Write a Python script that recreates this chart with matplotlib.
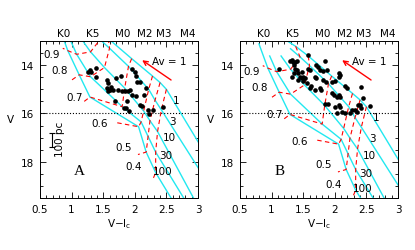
import matplotlib
matplotlib.use('Agg')
import matplotlib.pyplot as plt
import numpy as np
from matplotlib.ticker import MultipleLocator, FormatStrFormatter

plt.rcParams['font.family'] = 'DejaVu Sans'
plt.rcParams['mathtext.default'] = 'regular'

# model grid (panel A distance): rows = masses, columns = ages
masses = ['0.9', '0.8', '0.7', '0.6', '0.5', '0.4']
ages = ['1', '3', '10', '30', '100']
grid_vi = np.array([
    [1.38, 1.45, 1.30, 1.08, 0.94],
    [1.58, 1.60, 1.52, 1.30, 1.12],
    [1.95, 1.90, 1.84, 1.80, 1.29],
    [2.28, 2.22, 2.14, 2.10, 2.06],
    [2.40, 2.32, 2.24, 2.21, 2.18],
    [2.50, 2.42, 2.36, 2.33, 2.33],
])
grid_v = np.array([
    [12.50, 12.94, 13.45, 13.55, 13.40],
    [12.90, 13.30, 14.10, 14.48, 14.40],
    [13.73, 14.05, 14.95, 15.72, 15.32],
    [14.45, 15.00, 15.90, 16.35, 16.55],
    [14.72, 15.45, 16.30, 16.95, 17.60],
    [15.00, 15.85, 16.75, 17.60, 18.45],
])
# isochrone ends outside the mass grid
iso_top_vi = [1.20, 1.30, 1.15, 0.97, 0.80]
iso_top_v = [12.20, 12.60, 12.90, 12.90, 12.40]
iso_bot_vi = [3.10, 3.10, 2.97, 2.82, 2.62]
iso_bot_v = [17.60, 18.65, 19.70, 19.70, 19.70]
# last part of each track, toward the main sequence
tail_vi = [0.86, 1.00, 1.20, 1.69, 2.05, 2.29]
tail_v = [13.30, 14.62, 15.50, 16.37, 17.70, 18.70]

mass_lab_vi = [0.68, 0.81, 1.04, 1.44, 1.83, 1.98]
mass_lab_v = [13.52, 14.20, 15.30, 16.40, 17.37, 18.19]
age_lab_vi = [2.65, 2.59, 2.55, 2.49, 2.44]
age_lab_v = [15.43, 16.31, 16.99, 17.74, 18.38]

spt_names = ['K0', 'K5', 'M0', 'M2', 'M3', 'M4']
spt_vi = [0.88, 1.34, 1.81, 2.16, 2.46, 2.84]

stars_a_vi = [1.265, 1.29, 1.30, 1.39, 1.39, 1.555, 1.58, 1.555, 1.61, 1.58,
              1.66, 1.74, 1.71, 1.78, 1.69, 1.845, 1.90, 1.92, 1.95, 1.87,
              1.83, 1.86, 1.91, 1.95, 2.00, 2.03, 2.08, 2.02, 2.17, 2.02,
              2.08, 2.11, 2.21, 2.23, 2.29, 2.44, 2.14, 1.62, 1.80]
stars_a_v = [14.27, 14.18, 14.27, 14.10, 14.50, 14.61, 14.75, 14.95, 15.02, 15.09,
             15.02, 15.02, 14.54, 14.45, 15.47, 15.09, 15.09, 15.02, 15.22, 15.50,
             15.77, 15.77, 15.90, 14.14, 14.30, 14.68, 14.68, 14.45, 14.95, 15.29,
             15.63, 15.70, 15.84, 16.04, 15.84, 15.73, 15.25, 14.90, 15.05]

stars_b_vi = [1.12, 1.29, 1.32, 1.34, 1.37, 1.355, 1.40, 1.57, 1.37, 1.40,
              1.36, 1.42, 1.33, 1.48, 1.45, 1.48, 1.50, 1.53, 1.50, 1.42,
              1.58, 1.61, 1.71, 1.74, 1.77, 1.82, 1.555, 1.63, 1.61, 1.77,
              1.78, 1.69, 1.71, 1.82, 1.86, 2.06, 2.08, 2.07, 2.00, 1.95,
              1.99, 2.03, 2.06, 2.09, 2.16, 2.20, 2.41, 2.00, 2.06, 2.09,
              2.03, 2.11, 2.16, 2.37, 2.41, 2.45, 2.56, 2.27, 2.32, 2.35,
              2.24, 1.87, 1.95, 1.69, 1.84, 1.89, 1.84, 2.40]
stars_b_v = [14.16, 13.84, 13.80, 13.86, 13.89, 14.00, 13.84, 13.56, 14.14, 14.20,
             14.34, 14.34, 14.48, 14.27, 14.48, 14.54, 14.48, 14.54, 14.65, 14.61,
             14.14, 14.20, 14.00, 14.07, 14.20, 14.25, 14.75, 14.88, 14.93, 14.93,
             15.02, 14.48, 14.54, 14.61, 14.68, 14.34, 14.41, 14.48, 14.65, 15.16,
             15.22, 15.33, 15.22, 15.33, 14.88, 14.93, 14.89, 15.74, 15.66, 15.74,
             15.97, 15.95, 16.00, 15.63, 15.77, 15.36, 15.70, 15.84, 15.84, 15.95,
             15.97, 14.20, 14.68, 15.02, 13.82, 15.62, 15.60, 15.67]

panels = ['A', 'B']
dist_shift = [0.0, 0.72]
stars_vi = [stars_a_vi, stars_b_vi]
stars_v = [stars_a_v, stars_b_v]

fig = plt.figure(figsize=(4.15, 2.51), dpi=100)
lefts = [40 / 415, 240 / 415]

for k, name in enumerate(panels):
    ax = fig.add_axes([lefts[k], 52 / 251, 158 / 415, 157 / 251])
    dv = dist_shift[k]

    # isochrones
    for j in range(len(ages)):
        xs = [iso_top_vi[j]] + list(grid_vi[:, j]) + [iso_bot_vi[j]]
        ys = [iso_top_v[j]] + list(grid_v[:, j]) + [iso_bot_v[j]]
        ax.plot(xs, np.array(ys) + dv, color='#22e8f0', lw=1.0, zorder=2)
        ax.text(age_lab_vi[j], age_lab_v[j] + dv, ages[j], fontsize=7.5,
                ha='center', va='center')

    # mass tracks
    for i in range(len(masses)):
        xs = list(grid_vi[i]) + [tail_vi[i]]
        ys = list(grid_v[i]) + [tail_v[i]]
        ax.plot(xs, np.array(ys) + dv, color='red', lw=0.8,
                dashes=(4, 3), zorder=2)
        ax.text(mass_lab_vi[i], mass_lab_v[i] + dv, masses[i], fontsize=7.5,
                ha='center', va='center')

    ax.scatter(stars_vi[k], stars_v[k], s=11, color='black', zorder=3,
               linewidths=0)
    ax.axhline(16, color='black', ls=':', lw=0.8)

    # reddening vector
    ax.annotate('', xy=(2.08, 13.73), xytext=(2.61, 14.68),
                arrowprops=dict(arrowstyle='->', color='red', lw=1.0,
                                mutation_scale=8))
    ax.text(2.55, 13.82, 'Av = 1', fontsize=7.5, ha='center', va='center')

    ax.text(1.12, 18.38, name, fontsize=11, family='Liberation Serif',
            ha='center', va='center')

    if name == 'A':
        ax.errorbar([0.685], [17.1], yerr=[0.3], color='black', lw=0.8,
                    capsize=2, capthick=0.8)
        ax.text(0.82, 17.05, '100 pc', rotation=90, fontsize=7.5,
                ha='center', va='center')

    for s, xv in zip(spt_names, spt_vi):
        ax.text(xv, 1.05, s, transform=ax.get_xaxis_transform(), fontsize=7.5,
                ha='center', va='center')

    ax.set_xlim(0.5, 3.0)
    ax.set_ylim(19.5, 13.0)
    ax.xaxis.set_major_locator(MultipleLocator(0.5))
    ax.xaxis.set_minor_locator(MultipleLocator(0.1))
    ax.xaxis.set_major_formatter(FormatStrFormatter('%g'))
    ax.yaxis.set_major_locator(MultipleLocator(2))
    ax.yaxis.set_minor_locator(MultipleLocator(0.5))
    ax.tick_params(which='both', direction='in', top=True, right=True,
                   labelsize=7.5, width=0.6)
    ax.tick_params(which='major', length=4, pad=4)
    ax.tick_params(which='minor', length=2)
    for sp in ax.spines.values():
        sp.set_linewidth(0.7)
    ax.set_xlabel('V$-$I$_c$', fontsize=7.5, labelpad=2)
    ax.set_ylabel('V', fontsize=7.5, rotation=0, labelpad=8, va='center')

fig.savefig('out.png', dpi=100)
